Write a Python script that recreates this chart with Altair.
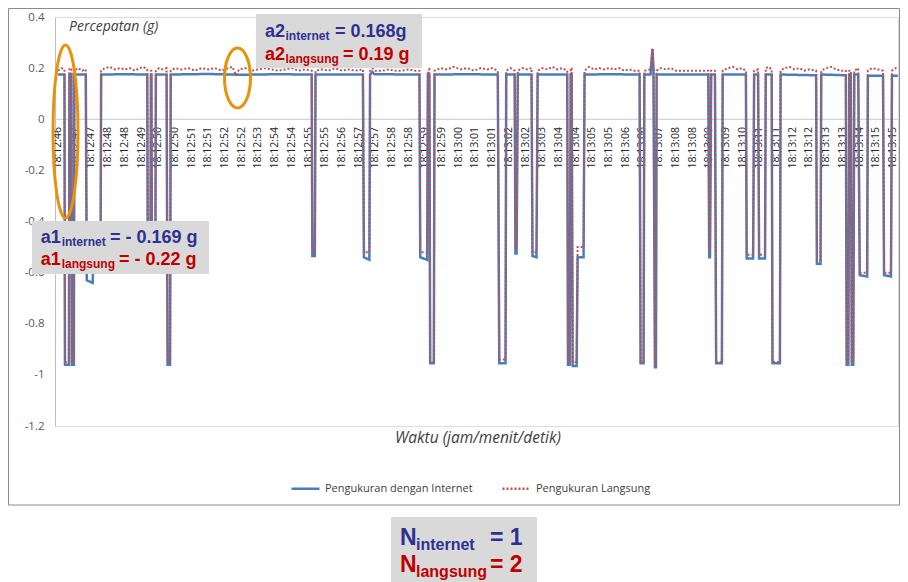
import altair as alt
import pandas as pd

# ---------------- data (x = sample index, 10 samples per category label) ----------------
series_names = ["Pengukuran dengan Internet", "Pengukuran Langsung"]

t_internet = [0, 3.86, 4.16, 6.53, 6.83, 8.02, 8.31, 9.5, 9.8, 16.63, 17.22, 20.78, 21.38, 25.53, 25.83,
              40, 53.44, 53.74, 55.34, 55.64, 55.94, 56.23, 58.31, 58.61, 65.02, 65.61, 67.1, 67.51,
              90, 110, 130, 151.9, 152.31, 153.79, 154.21, 182.59, 183.18, 186.45, 186.87, 188.23, 189.42,
              216.44, 216.92, 221.07, 221.49, 222.38, 222.86, 225.05, 225.47, 245, 263.35, 264.24, 267.98,
              268.4, 273.44, 273.92, 274.63, 275.35, 283.54, 284.13, 286.51, 287.22, 304.92, 305.39, 306.4,
              307.0, 307.59, 308.18, 310.56, 311.15, 314.71, 315.31, 330, 348.26, 348.86, 350.64, 351.11,
              354.79, 355.98, 356.57, 357.46, 358.06, 358.47, 389.41, 389.94, 390.42, 391.13, 393.39, 394.1,
              397.55, 398.02, 411.92, 412.39, 416.25, 416.85, 419.22, 419.82, 423.38, 423.8, 427.36, 427.84,
              432.29, 432.7, 453.96, 454.44, 456.63, 457.05, 471.77, 472.25, 473.26, 473.85, 474.74, 475.34,
              476.23, 476.82, 479.2, 480.09, 484.54, 484.96, 494.04, 494.64, 498.79, 499.39, 502.95]
a_internet = [0.175, 0.175, -0.96, -0.96, 0.175, 0.175, -0.96, -0.96, 0.175, 0.175, -0.63, -0.64, -0.45, -0.45, 0.175,
              0.176, 0.175, -0.5, -0.5, 0.175, 0.175, -0.5, -0.5, 0.175, 0.175, -0.96, -0.96, 0.175,
              0.177, 0.174, 0.176, 0.175, -0.535, -0.535, 0.175, 0.175, -0.54, -0.55, 0.175, 0.185, 0.176,
              0.175, -0.54, -0.55, 0.175, 0.175, -0.955, -0.955, 0.175, 0.176, 0.175, -0.955, -0.955,
              0.175, 0.175, -0.525, -0.525, 0.175, 0.175, -0.535, -0.54, 0.175, 0.175, -0.96, -0.96,
              0.175, 0.175, -0.965, -0.965, -0.54, -0.54, 0.175, 0.176, 0.175, -0.955, -0.955, 0.175,
              0.175, 0.275, 0.2, -0.97, -0.97, 0.175, 0.175, -0.54, -0.54, 0.175, 0.175, -0.955,
              -0.955, 0.175, 0.175, -0.545, -0.545, 0.175, 0.175, -0.545, -0.545, 0.175, 0.175, -0.955,
              -0.955, 0.175, 0.172, -0.565, -0.565, 0.175, 0.172, -0.96, -0.96, 0.175, 0.175, -0.96,
              -0.96, 0.175, 0.175, -0.61, -0.615, 0.17, 0.17, -0.61, -0.615, 0.17, 0.17]

t_langsung = [0, 2, 3.86, 4.16, 6.53, 6.83, 8.02, 8.31, 9.5, 9.8, 12, 14.5, 16.63,
              17.22, 20.78, 21.38, 25.53, 25.83, 28, 31, 34, 37, 40, 43, 46, 49, 51, 53.44,
              53.74, 55.34, 55.64, 55.94, 56.23, 58.31, 58.61, 60.5, 62.5, 65.02, 65.61, 67.1, 67.51,
              70, 74, 78, 82, 86, 90, 94, 98, 102, 104.5, 106.5, 108.5, 112, 116, 120, 124, 128, 132,
              136, 140, 144, 148, 151.9, 152.31, 153.79, 154.21, 158, 162, 166, 170, 174, 178, 182.59,
              183.18, 186.45, 186.87, 188.23, 190, 194, 198, 202, 206, 210, 213, 216.44,
              216.92, 221.07, 221.49, 222.38, 222.86, 225.05, 225.47, 229, 233, 237, 241, 245, 249, 253,
              257, 260, 263.35, 264.24, 267.98, 268.4, 271, 273.44, 273.92, 274.63, 275.35, 278, 281,
              283.54, 284.13, 286.51, 287.22, 290, 293, 296, 299, 302, 304.92, 305.39, 306.4, 307.0,
              307.59, 308.18, 310.56, 311.15, 314.71, 315.31, 318, 321, 324, 327, 330, 333, 336, 339,
              342, 345, 348.26, 348.86, 350.64, 351.11, 354.79, 355.98, 356.57, 357.46, 358.06, 358.47,
              361, 364, 367, 370, 374, 378, 382, 386, 389.41, 389.94, 390.42, 391.13, 393.39, 394.1,
              397.55, 398.02, 401, 404, 407, 409.5, 411.92, 412.39, 416.25, 416.85, 419.22, 419.82,
              423.38, 423.8, 425.5, 427.36, 427.84, 432.29, 432.7, 435, 438, 441, 444, 447, 450, 453.96,
              454.44, 456.63, 457.05, 460, 463, 466, 469, 471.77, 472.25, 473.26, 473.85, 474.74, 475.34,
              476.23, 476.82, 479.2, 480.09, 484.54, 484.96, 487.5, 491, 494.04, 494.64, 498.79, 499.39,
              501.5, 502.95]
a_langsung = [0.19, 0.2, 0.195, -0.95, -0.95, 0.2, 0.195, -0.95, -0.95, 0.19, 0.2, 0.19, 0.195,
              -0.6, -0.6, -0.45, -0.45, 0.19, 0.2, 0.205, 0.195, 0.2, 0.195, 0.2, 0.19, 0.2, 0.205, 0.195,
              -0.5, -0.5, 0.19, 0.19, -0.5, -0.5, 0.19, 0.2, 0.195, 0.2, -0.95, -0.95, 0.19,
              0.2, 0.195, 0.2, 0.19, 0.2, 0.195, 0.2, 0.19, 0.2, 0.205, 0.172, 0.195, 0.2, 0.19, 0.195, 0.2, 0.195, 0.19,
              0.195, 0.2, 0.19, 0.195, 0.19, -0.52, -0.52, 0.19, 0.195, 0.19, 0.2, 0.19, 0.195, 0.19, 0.195,
              -0.52, -0.52, 0.19, 0.2, 0.19, 0.19, 0.195, 0.19, 0.19, 0.195, 0.19, 0.19,
              -0.52, -0.52, 0.19, 0.195, -0.95, -0.95, 0.19, 0.2, 0.195, 0.205, 0.195, 0.2, 0.19, 0.2,
              0.195, 0.2, 0.19, -0.94, -0.94, 0.19, 0.2, 0.19, -0.5, -0.5, 0.19, 0.2, 0.195,
              0.2, -0.52, -0.52, 0.19, 0.2, 0.195, 0.205, 0.195, 0.2, 0.19, -0.95, -0.95, 0.2,
              0.2, -0.95, -0.95, -0.5, -0.5, 0.19, 0.205, 0.195, 0.2, 0.195, 0.2, 0.195, 0.2, 0.19,
              0.195, 0.19, 0.19, -0.95, -0.95, 0.19, 0.195, 0.278, 0.2, -0.97, -0.97, 0.19,
              0.2, 0.195, 0.2, 0.19, 0.19, 0.19, 0.19, 0.19, 0.19, -0.52, -0.52, 0.19, 0.19, -0.95,
              -0.95, 0.19, 0.2, 0.205, 0.195, 0.2, 0.19, -0.53, -0.53, 0.19, 0.195, -0.53,
              -0.53, 0.2, 0.205, 0.195, -0.95, -0.95, 0.19, 0.2, 0.205, 0.195, 0.2, 0.19, 0.195, 0.19,
              -0.55, -0.55, 0.19, 0.2, 0.205, 0.195, 0.19, 0.19, -0.95, -0.95, 0.19, 0.19, -0.95,
              -0.95, 0.19, 0.2, -0.6, -0.6, 0.19, 0.2, 0.195, 0.19, -0.6, -0.6, 0.19,
              0.2, 0.195]

tick_labels = ["18:12:46", "18:12:47", "18:12:47", "18:12:48", "18:12:48", "18:12:49", "18:12:50",
               "18:12:50", "18:12:51", "18:12:51", "18:12:52", "18:12:52", "18:12:53", "18:12:54",
               "18:12:54", "18:12:55", "18:12:55", "18:12:56", "18:12:57", "18:12:57", "18:12:58",
               "18:12:58", "18:12:59", "18:12:59", "18:13:00", "18:13:01", "18:13:01", "18:13:02",
               "18:13:02", "18:13:03", "18:13:04", "18:13:04", "18:13:05", "18:13:05", "18:13:06",
               "18:13:06", "18:13:07", "18:13:08", "18:13:08", "18:13:09", "18:13:09", "18:13:10",
               "18:13:11", "18:13:11", "18:13:12", "18:13:12", "18:13:13", "18:13:13", "18:13:14",
               "18:13:15", "18:13:15"]
tick_pos = [10 * i for i in range(len(tick_labels))]
y_ticks = [0.4, 0.2, 0, -0.2, -0.4, -0.6, -0.8, -1, -1.2]

# ---------------- tables ----------------
df_int = pd.DataFrame({"t": t_internet, "a": a_internet, "seri": series_names[0],
                       "i": range(len(t_internet))})
df_lang = pd.DataFrame({"t": t_langsung, "a": a_langsung, "seri": series_names[1],
                        "i": range(len(t_langsung))})
df_ticks = pd.DataFrame({"t": tick_pos, "lab": tick_labels})
one = pd.DataFrame({"k": [0]})

BLUE_T = "#2E3192"
RED_T = "#C00000"
AXIS_FONT = "Open Sans"
BOLD_FONT = "Liberation Sans"

W = 843  # plot width (page must stay within the window)
xs = alt.Scale(domain=[-1.8, 503], nice=False, zero=False)
ys = alt.Scale(domain=[-1.2, 0.4], nice=False, zero=False)

leg = alt.Legend(title=None, orient="none", legendX=235, legendY=456, direction="horizontal",
                 symbolType="stroke", symbolSize=784, symbolStrokeWidth=2.5,
                 labelFont=AXIS_FONT, labelFontSize=11, labelColor="#404040",
                 columnPadding=24, labelOffset=4, padding=0)
color = alt.Color("seri:N", scale=alt.Scale(domain=series_names, range=["#4A7EBB", "#C0504D"]), legend=leg)
dash = alt.StrokeDash("seri:N", scale=alt.Scale(domain=series_names, range=[[1, 0], [2, 2]]), legend=leg)

yaxis = alt.Axis(values=y_ticks, grid=False, ticks=False, domainColor="#bfbfbf", labelPadding=11,
                 labelFont=AXIS_FONT, labelFontSize=11.5, labelColor="#595959", title=None,
                 labelExpr="datum.value == 0 ? '0' : toString(round(datum.value * 10) / 10)")

border = alt.Chart(one).mark_rect(fillOpacity=0, stroke="#8c8c8c", strokeWidth=1).encode(
    x=alt.value(-46.5), x2=alt.value(W + 1.5), y=alt.value(-8.5), y2=alt.value(488))

zero_rule = alt.Chart(one).mark_rule(color="#c8c8c8", strokeWidth=1).encode(
    y=alt.Y(datum=0, scale=ys))

ticks = alt.Chart(df_ticks).mark_text(angle=270, align="right", baseline="middle",
                                      font=AXIS_FONT, fontSize=10.5, color="#262626").encode(
    x=alt.X("t:Q", scale=xs, axis=None), y=alt.value(110), text="lab:N")

line_int = alt.Chart(df_int).mark_line(strokeWidth=2.5).encode(
    x=alt.X("t:Q", scale=xs, axis=None),
    y=alt.Y("a:Q", scale=ys, axis=yaxis),
    order="i:Q", color=color, strokeDash=dash)

line_lang = alt.Chart(df_lang).mark_line(strokeWidth=2).encode(
    x=alt.X("t:Q", scale=xs, axis=None),
    y=alt.Y("a:Q", scale=ys, axis=yaxis),
    order="i:Q", color=color, strokeDash=dash)


def box(x1, x2, y1, y2):
    return alt.Chart(one).mark_rect(fill="#d9d9d9").encode(
        x=alt.value(x1), x2=alt.value(x2), y=alt.value(y1), y2=alt.value(y2))


def txt(s, x, y, size, col, bold=True, font=BOLD_FONT, italic=False, align="left", baseline="alphabetic"):
    kw = dict(align=align, baseline=baseline, font=font, fontSize=size, color=col)
    if bold:
        kw["fontWeight"] = "bold"
    if italic:
        kw["fontStyle"] = "italic"
    return alt.Chart(one).mark_text(**kw).encode(x=alt.value(x), y=alt.value(y), text=alt.value(s))


annots = [
    box(201, 367, -3, 51),
    txt("a2", 210, 19.7, 18, BLUE_T), txt("internet", 230.5, 23, 12, BLUE_T), txt("= 0.168g", 280, 19.7, 18, BLUE_T),
    txt("a2", 210, 43, 18, RED_T), txt("langsung", 230.5, 45.5, 12, RED_T), txt("= 0.19 g", 288, 43, 18, RED_T),
    box(-23, 154, 204, 257),
    txt("a1", -14.3, 226.3, 18, BLUE_T), txt("internet", 6.7, 229, 12, BLUE_T), txt("= - 0.169 g", 55, 226.3, 18, BLUE_T),
    txt("a1", -14.3, 248, 18, RED_T), txt("langsung", 6.7, 250.5, 12, RED_T), txt("= - 0.22 g", 64, 248, 18, RED_T),
    box(336, 482, 500, 575),
    txt("N", 345, 528, 23, BLUE_T), txt("internet", 361, 533, 16, BLUE_T), txt("= 1", 435, 528, 23, BLUE_T),
    txt("N", 345, 555, 23, RED_T), txt("langsung", 361, 559.5, 16, RED_T), txt("= 2", 435, 555, 23, RED_T),
    txt("Percepatan (g)", 14, 13.5, 14, "#404040", bold=False, font=AXIS_FONT, italic=True),
    txt("Waktu (jam/menit/detik)", 423, 421, 15.5, "#404040", bold=False, font=AXIS_FONT, italic=True,
        align="center", baseline="middle"),
]

k = 0.5523
def ellipse_path(a):
    ka = round(k * a, 4)
    return (f"M 0 -1 C {ka} -1 {a} -{k} {a} 0 C {a} {k} {ka} 1 0 1 "
            f"C -{ka} 1 -{a} {k} -{a} 0 C -{a} -{k} -{ka} -1 0 -1 Z")

ell1 = alt.Chart(one).mark_point(shape=ellipse_path(0.1445), size=29929, filled=False,
                                 stroke="#E8920C", strokeWidth=3, opacity=1).encode(
    x=alt.value(10.5), y=alt.value(114.5))
ell2 = alt.Chart(one).mark_point(shape=ellipse_path(0.433), size=3600, filled=False,
                                 stroke="#E8920C", strokeWidth=3, opacity=1).encode(
    x=alt.value(182.5), y=alt.value(61))

chart = alt.layer(border, zero_rule, ticks, line_int, line_lang, *annots, ell1, ell2).properties(
    width=W, height=409,
    padding={"left": 47, "top": 9, "right": 2, "bottom": 170},
    autosize=alt.AutoSizeParams(type="none"),
).configure_view(stroke=None).configure(background="white")

chart.save("out.html", embed_options={"renderer": "svg", "actions": False})
